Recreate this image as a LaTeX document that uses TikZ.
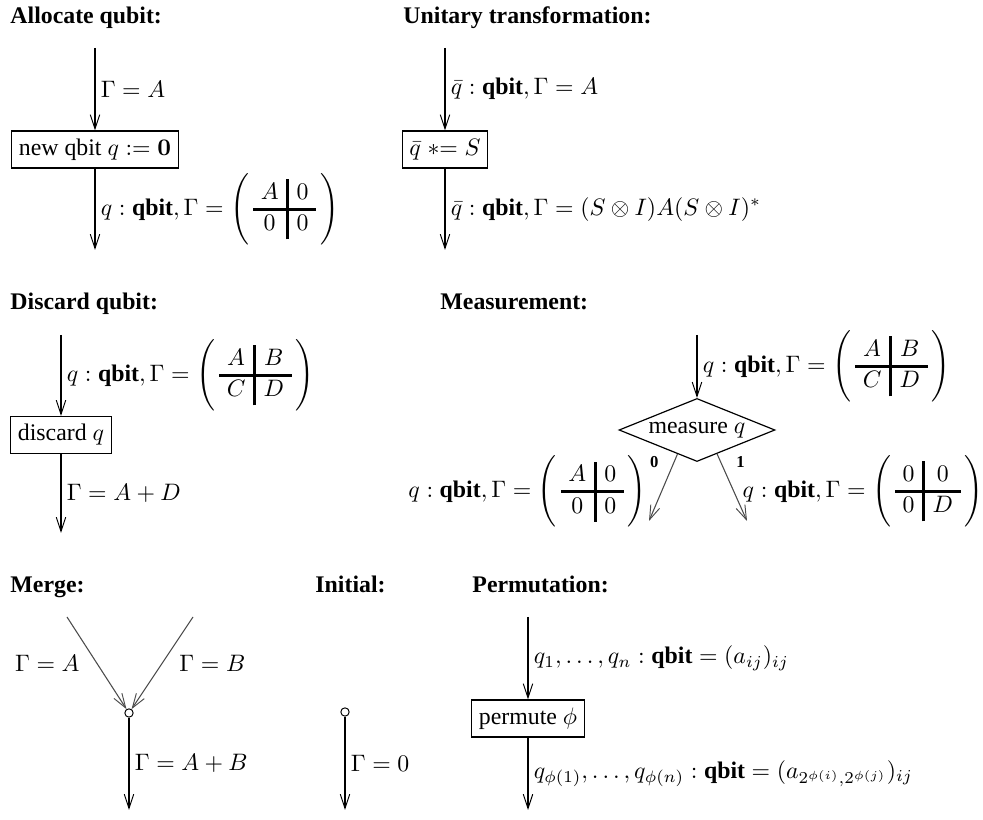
\documentclass[tikz,border=0pt]{standalone}
\usepackage[no-math]{fontspec}
\setmainfont{Liberation Serif}
\usepackage{array}
\usetikzlibrary{shapes.geometric, arrows.meta, positioning}

\setlength{\arrayrulewidth}{1.2pt}
\newcommand{\blockmat}[4]{\Bigg(\,{\setlength{\arraycolsep}{3.2pt}\begin{array}{c|c} #1 & #2 \\ \hline #3 & #4 \end{array}}\,\Bigg)}
\newcommand{\qbit}{\textbf{qbit}}

\tikzstyle{heading} = [anchor=base west, inner sep=0pt, font=\bfseries]
\tikzstyle{stmt} = [rectangle, draw=black, line width=0.5pt, minimum height=15.5pt, inner sep=3pt]
\tikzstyle{test} = [diamond, draw=black, line width=0.5pt, aspect=2.5, inner sep=0pt, minimum width=65.5pt, minimum height=26.5pt]
\tikzstyle{junction} = [circle, draw=black, line width=0.4pt, fill=white, inner sep=0pt, minimum size=3.5pt]
\tikzstyle{arrow} = [line width=0.85pt, ->, >={Straight Barb[length=6pt,width=4pt,line width=0.4pt]}]
\tikzstyle{thinarrow} = [line width=0.45pt, draw=black!70, ->, >={Straight Barb[length=6pt,width=4pt,line width=0.4pt]}]
\tikzstyle{lab} = [inner sep=2pt]

\begin{document}
\begin{tikzpicture}[x=0.42pt, y=-0.42pt]
        \useasboundingbox (0,0) rectangle (983,820);
        % Headings
        \node (h-alloc) [heading] at (10,24) {Allocate qubit:};
        \node (h-unit) [heading] at (403,24) {Unitary transformation:};
        \node (h-disc) [heading] at (10,310) {Discard qubit:};
        \node (h-meas) [heading] at (440,310) {Measurement:};
        \node (h-merge) [heading] at (10,593) {Merge:};
        \node (h-init) [heading] at (315,593) {Initial:};
        \node (h-perm) [heading] at (472,593) {Permutation:};

        % Allocate qubit
        \coordinate (alloc-in) at (95,48);
        \node (alloc) [stmt] at (95,149.5) {new qbit $q := \mathbf{0}$};
        \coordinate (alloc-out) at (95,250);
        \draw [arrow] (alloc-in) -- node[lab, right] {$\Gamma = A$} (alloc);
        \draw [arrow] (alloc) -- node[lab, right] {$q : \qbit, \Gamma = \blockmat{A}{0}{0}{0}$} (alloc-out);

        % Unitary transformation
        \coordinate (unit-in) at (445,48);
        \node (unit) [stmt] at (445,149.5) {$\bar{q} \mathrel{{*}{=}} S$};
        \coordinate (unit-out) at (445,250);
        \draw [arrow] (unit-in) -- node[lab, right] {$\bar{q} : \qbit, \Gamma = A$} (unit);
        \draw [arrow] (unit) -- node[lab, right] {$\bar{q} : \qbit, \Gamma = (S \otimes I) A (S \otimes I)^*$} (unit-out);

        % Discard qubit
        \coordinate (disc-in) at (61,335);
        \node (disc) [stmt] at (61,435) {discard $q$};
        \coordinate (disc-out) at (61,533);
        \draw [arrow] (disc-in) -- node[lab, right] {$q : \qbit, \Gamma = \blockmat{A}{B}{C}{D}$} (disc);
        \draw [arrow] (disc) -- node[lab, right] {$\Gamma = A + D$} (disc-out);

        % Measurement
        \coordinate (meas-in) at (697,335);
        \node (meas) [test] at (697,430) {measure $q$};
        \coordinate (meas-zero) at (649,521);
        \coordinate (meas-one) at (747,521);
        \draw [arrow] (meas-in) -- node[lab, right] {$q : \qbit, \Gamma = \blockmat{A}{B}{C}{D}$} (meas);
        \draw [thinarrow] (meas.231) -- node[pos=0.12, left=3pt, font=\scriptsize\bfseries] {0}
            node[lab, pos=0.56, left=4pt] {$q : \qbit, \Gamma = \blockmat{A}{0}{0}{0}$} (meas-zero);
        \draw [thinarrow] (meas.310) -- node[pos=0.12, right=3pt, font=\scriptsize\bfseries] {1}
            node[lab, pos=0.56, right=1.5pt] {$q : \qbit, \Gamma = \blockmat{0}{0}{0}{D}$} (meas-one);

        % Merge
        \coordinate (merge-a) at (67,617);
        \coordinate (merge-b) at (193,617);
        \node (merge) [junction] at (129,713) {};
        \coordinate (merge-out) at (129,810);
        \draw [thinarrow] (merge-a) -- node[lab, left=5pt] {$\Gamma = A$} (merge);
        \draw [thinarrow] (merge-b) -- node[lab, right=5pt] {$\Gamma = B$} (merge);
        \draw [arrow] (merge) -- node[lab, right] {$\Gamma = A + B$} (merge-out);

        % Initial
        \node (init) [junction] at (345,712) {};
        \coordinate (init-out) at (345,810);
        \draw [arrow] (init) -- node[lab, right] {$\Gamma = 0$} (init-out);

        % Permutation
        \coordinate (perm-in) at (528,617);
        \node (perm) [stmt] at (528,718.5) {permute $\phi$};
        \coordinate (perm-out) at (528,810);
        \draw [arrow] (perm-in) -- node[lab, right] {$q_1, \ldots, q_n : \qbit = (a_{ij})_{ij}$} (perm);
        \draw [arrow] (perm) -- node[lab, right] {$q_{\phi(1)}, \ldots, q_{\phi(n)} : \qbit = (a_{2^{\phi(i)},2^{\phi(j)}})_{ij}$} (perm-out);
    \end{tikzpicture}
\end{document}
